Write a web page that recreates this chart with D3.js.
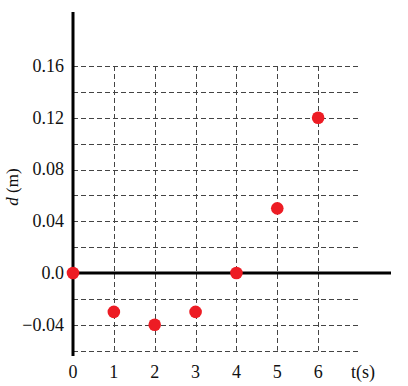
<!DOCTYPE html>
<html>
<head>
<meta charset="utf-8">
<script src="https://cdn.jsdelivr.net/npm/d3@7"></script>
<style>
  body { margin: 0; background: #fff; }
</style>
</head>
<body>
<div id="chart"></div>
<script>
// data
const times = [0, 1, 2, 3, 4, 5, 6];
const distances = [0, -0.03, -0.04, -0.03, 0, 0.05, 0.12];
const xTicks = [0, 1, 2, 3, 4, 5, 6];
const yTicks = [0.16, 0.12, 0.08, 0.04, 0, -0.04];
const yTickLabels = ['0.16', '0.12', '0.08', '0.04', '0.0', '\u22120.04'];
const gridX = [1, 2, 3, 4, 5, 6];
const gridY = [0.16, 0.14, 0.12, 0.10, 0.08, 0.06, 0.04, 0.02, -0.02, -0.04, -0.06];

const width = 408, height = 386;
const serif = 'Liberation Serif';
const fontSize = 18;

const svg = d3.select('#chart')
    .append('svg')
    .attr('width', width)
    .attr('height', height);

// 0 -> 73px, 1 unit ~ 40.8px
const x = d3.scaleLinear().domain([0, 7]).range([73, 359]);
// 0 -> 273px, 0.16 -> 66px
const y = d3.scaleLinear().domain([-0.06, 0.16]).range([350.7, 66]);

// dashed grid
const grid = svg.append('g')
    .attr('stroke', '#444')
    .attr('stroke-width', 1)
    .attr('stroke-dasharray', '5,3');

grid.selectAll('line.h')
    .data(gridY)
    .join('line')
    .attr('class', 'h')
    .attr('x1', x(0))
    .attr('x2', x(7))
    .attr('y1', d => Math.round(y(d)) + 0.5)
    .attr('y2', d => Math.round(y(d)) + 0.5);

grid.selectAll('line.v')
    .data(gridX)
    .join('line')
    .attr('class', 'v')
    .attr('x1', d => Math.round(x(d)) + 0.5)
    .attr('x2', d => Math.round(x(d)) + 0.5)
    .attr('y1', y(0.16))
    .attr('y2', y(-0.06));

// axes
svg.append('line')
    .attr('x1', x(0)).attr('x2', 391)
    .attr('y1', y(0)).attr('y2', y(0))
    .attr('stroke', '#000').attr('stroke-width', 3);

svg.append('line')
    .attr('x1', x(0)).attr('x2', x(0))
    .attr('y1', 12).attr('y2', 356)
    .attr('stroke', '#000').attr('stroke-width', 3);

// tick labels
svg.append('g')
    .selectAll('text')
    .data(yTicks)
    .join('text')
    .attr('x', 64)
    .attr('y', d => y(d))
    .attr('dy', '0.33em')
    .attr('text-anchor', 'end')
    .attr('font-family', serif)
    .attr('font-size', fontSize)
    .attr('fill', '#111')
    .text((d, i) => yTickLabels[i]);

svg.append('g')
    .selectAll('text')
    .data(xTicks)
    .join('text')
    .attr('x', d => x(d))
    .attr('y', 378)
    .attr('text-anchor', 'middle')
    .attr('font-family', serif)
    .attr('font-size', fontSize)
    .attr('fill', '#111')
    .text(d => d);

svg.append('text')
    .attr('x', 363)
    .attr('y', 378)
    .attr('text-anchor', 'middle')
    .attr('font-family', serif)
    .attr('font-size', fontSize)
    .attr('fill', '#111')
    .text('t(s)');

const yLabel = svg.append('text')
    .attr('transform', 'translate(18,187) rotate(-90)')
    .attr('text-anchor', 'middle')
    .attr('font-family', serif)
    .attr('font-size', 17)
    .attr('fill', '#111');
yLabel.append('tspan').attr('font-style', 'italic').text('d');
yLabel.append('tspan').text(' (m)');

// points
svg.append('g')
    .selectAll('circle')
    .data(times)
    .join('circle')
    .attr('cx', d => x(d))
    .attr('cy', (d, i) => y(distances[i]))
    .attr('r', 6.3)
    .attr('fill', '#ed1c24');
</script>
</body>
</html>
